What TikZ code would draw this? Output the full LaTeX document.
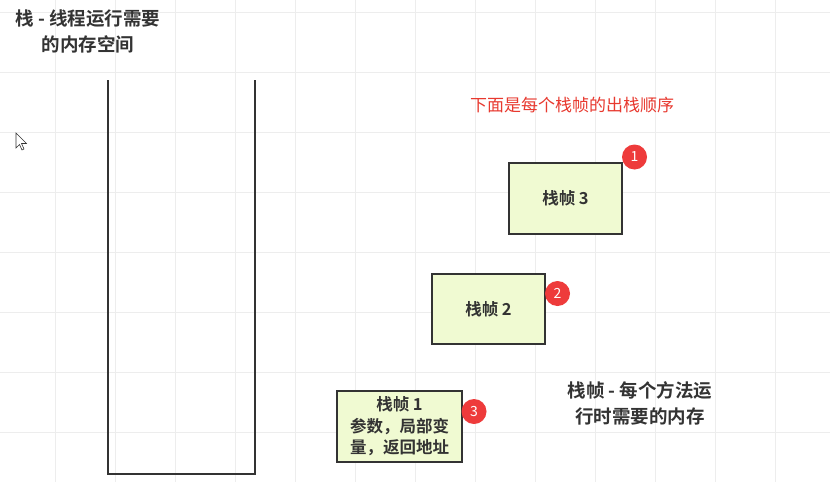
\documentclass[tikz,border=0pt]{standalone}
\usepackage{fontspec}
\setmainfont{Noto Sans CJK SC}
\newfontfamily\cjkb{Noto Sans CJK SC Bold}
\definecolor{gridc}{HTML}{EDEDED}
\definecolor{ink}{HTML}{333333}
\definecolor{framefill}{HTML}{F0FAD2}
\definecolor{badgered}{HTML}{EE3B3B}
\definecolor{redtext}{HTML}{E8392F}
\tikzset{
  frame/.style={draw=ink, line width=1.3pt, fill=framefill, inner sep=0pt, text=ink, font=\cjkb\fontsize{16.5}{21.5}\selectfont, align=center},
  badge/.style={circle, fill=badgered, minimum size=25pt, inner sep=0pt, text=white, font=\fontsize{14}{14}\selectfont},
  note/.style={text=ink, font=\cjkb\fontsize{18.5}{26}\selectfont, align=center},
  stackline/.style={draw=ink, line width=1.6pt}
}
\begin{document}
\begin{tikzpicture}[x=1pt,y=-1pt]
\useasboundingbox (0,0) rectangle (830,482);
\fill[white] (0,0) rectangle (830,482);
% grid
\foreach \gx in {55,115,...,835} \draw[gridc, line width=0.8pt] (\gx,0) -- (\gx,482);
\foreach \gy in {12,72,...,492} \draw[gridc, line width=0.8pt] (0,\gy) -- (830,\gy);
% cursor
\draw[ink, line width=0.6pt, fill=white] (16,133) -- (16,148) -- (19.5,144.5) -- (22,150) -- (24,149) -- (21.5,143.5) -- (26.5,143.5) -- cycle;
% stack container
\coordinate (stl) at (108,80);
\coordinate (sbl) at (108,474);
\coordinate (sbr) at (255,474);
\coordinate (str) at (255,80);
\draw[stackline] (stl) -- (sbl) -- (sbr) -- (str);
% titles
\node[note] (title) at (88,31) {栈 - 线程运行需要\\的内存空间};
\node[note] (frnote) at (640,403) {栈帧 - 每个方法运\\行时需要的内存};
\node[text=redtext, font=\fontsize{17}{20}\selectfont] (order) at (572,105) {下面是每个栈帧的出栈顺序};
% frames
\node[frame, minimum width=113pt, minimum height=71pt] (f3) at (565.5,198.5) {栈帧 3};
\node[frame, minimum width=113pt, minimum height=70pt] (f2) at (488.5,309) {栈帧 2};
\node[frame, minimum width=125pt, minimum height=71pt] (f1) at (399.5,426.5) {栈帧 1\\参数，局部变\\量，返回地址};
% badges
\node[badge] (b1) at (634.5,157) {1};
\node[badge] (b2) at (557.5,293.5) {2};
\node[badge] (b3) at (474,411.5) {3};
\end{tikzpicture}
\end{document}
